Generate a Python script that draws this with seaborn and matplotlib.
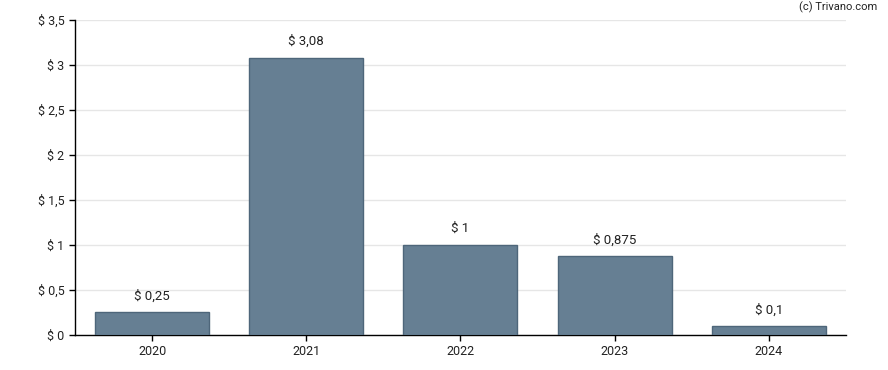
import numpy as np
import pandas as pd
import matplotlib
matplotlib.use("Agg")
import matplotlib.pyplot as plt
import seaborn as sns
from matplotlib.ticker import FuncFormatter

# Dividend per year
years = ["2020", "2021", "2022", "2023", "2024"]
dividends = [0.25, 3.08, 1.0, 0.875, 0.1]
labels = ["$ 0,25", "$ 3,08", "$ 1", "$ 0,875", "$ 0,1"]

df = pd.DataFrame({"year": years, "dividend": dividends})

sns.set_style("white")
plt.rcParams["font.family"] = ["Roboto", "DejaVu Sans"]

fig = plt.figure(figsize=(8.88, 3.7), dpi=100)
ax = fig.add_axes([0.0845, 0.0946, 0.868, 0.8514])

sns.barplot(data=df, x="year", y="dividend", color="#667f93", saturation=1,
            width=0.74, edgecolor="#4e667a", linewidth=1, ax=ax, zorder=3)

for i, (v, lab) in enumerate(zip(dividends, labels)):
    ax.annotate(lab, (i, v), xytext=(0, 7), textcoords="offset points",
                ha="center", va="bottom", fontsize=9.5, color="#222222")

ax.set_ylim(0, 3.5)
ax.set_xlim(-0.5, 4.5)
ax.set_yticks(np.arange(0, 3.51, 0.5))
ax.yaxis.set_major_formatter(FuncFormatter(
    lambda v, p: "$ " + (f"{v:g}".replace(".", ","))))
ax.grid(axis="y", color="#e6e6e6", linewidth=1, zorder=0)
ax.set_axisbelow(True)

for s in ["top", "right"]:
    ax.spines[s].set_visible(False)
for s in ["left", "bottom"]:
    ax.spines[s].set_color("black")
    ax.spines[s].set_linewidth(1)

ax.tick_params(axis="both", length=4, width=1, color="black",
               labelsize=9, labelcolor="#222222", left=True, bottom=True)
ax.set_xlabel("")
ax.set_ylabel("")

fig.text(0.988, 0.995, "(c) Trivano.com", ha="right", va="top",
         fontsize=8, color="#222222")

fig.savefig("out.png", dpi=100)
